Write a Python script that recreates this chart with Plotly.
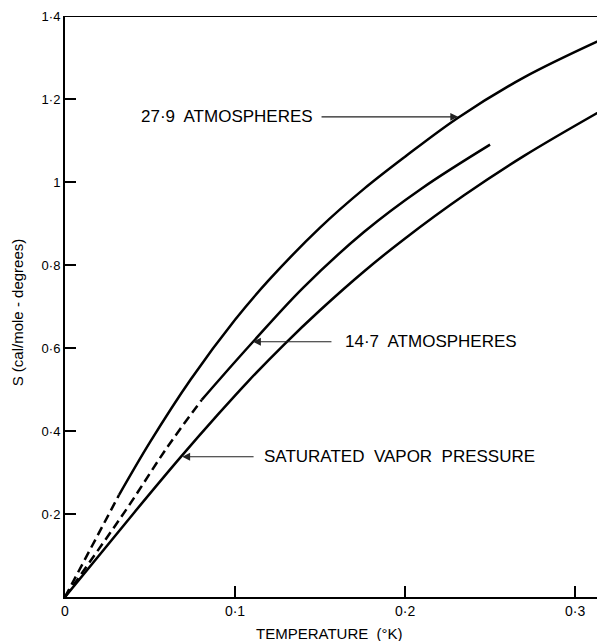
import plotly.graph_objects as go

# Curve data (temperature in K, entropy in cal/mole-deg)
x_279 = [0, 0.0318, 0.05, 0.0739, 0.1, 0.12, 0.15, 0.176, 0.2, 0.2312, 0.27, 0.3176]
y_279 = [0, 0.246, 0.373, 0.524, 0.668, 0.764, 0.89, 0.984, 1.061, 1.155, 1.252, 1.347]
dash_end_279 = 0.0318

x_147 = [0, 0.0359, 0.06, 0.0804, 0.0906, 0.1106, 0.14, 0.176, 0.21, 0.25]
y_147 = [0, 0.21, 0.36, 0.475, 0.523, 0.615, 0.745, 0.88, 0.985, 1.09]
dash_end_147 = 0.0804

x_svp = [0, 0.041, 0.068, 0.09, 0.108, 0.129, 0.15, 0.176, 0.2, 0.2347, 0.27, 0.3176]
y_svp = [0, 0.205, 0.337, 0.44, 0.521, 0.609, 0.691, 0.785, 0.864, 0.968, 1.063, 1.177]

x_tickvals = [0, 0.1, 0.2, 0.3]
x_ticktext = ["0", "0·1", "0·2", "0·3"]
y_tickvals = [0.2, 0.4, 0.6, 0.8, 1.0, 1.2, 1.4]
y_ticktext = ["0·2", "0·4", "0·6", "0·8", "1", "1·2", "1·4"]

label_texts = ["27·9  ATMOSPHERES", "14·7  ATMOSPHERES", "SATURATED  VAPOR  PRESSURE"]
label_x = [0.147, 0.1635, 0.1157]
label_anchor = ["right", "left", "left"]
arrow_tail_x = [0.150, 0.1576, 0.1118]
arrow_tip_x = [0.2312, 0.1106, 0.069]
arrow_tip_y = [1.157, 0.615, 0.338]

FONT = "Liberation Sans"
LW = 2.5
OFF = 8  # page body margin of the html page


def split(xs, ys, xcut):
    dx, dy, sx, sy = [], [], [], []
    for x, y in zip(xs, ys):
        if x <= xcut:
            dx.append(x); dy.append(y)
        if x >= xcut:
            sx.append(x); sy.append(y)
    return dx, dy, sx, sy


fig = go.Figure()
for xs, ys, cut in [(x_279, y_279, dash_end_279), (x_147, y_147, dash_end_147)]:
    dx, dy, sx, sy = split(xs, ys, cut)
    fig.add_trace(go.Scatter(x=dx, y=dy, mode="lines", line=dict(color="black", width=LW, dash="9px,5px", shape="spline"), showlegend=False, hoverinfo="skip"))
    fig.add_trace(go.Scatter(x=sx, y=sy, mode="lines", line=dict(color="black", width=LW, shape="spline"), showlegend=False, hoverinfo="skip"))
fig.add_trace(go.Scatter(x=x_svp, y=y_svp, mode="lines", line=dict(color="black", width=LW, shape="spline"), showlegend=False, hoverinfo="skip"))

annotations = []
for t, lx, anc, tx, hx, hy in zip(label_texts, label_x, label_anchor, arrow_tail_x, arrow_tip_x, arrow_tip_y):
    annotations.append(dict(x=lx, y=hy, xref="x", yref="y", text=t, showarrow=False, xanchor=anc, yanchor="middle",
                            font=dict(family=FONT, size=17, color="black")))
    annotations.append(dict(x=hx, y=hy, xref="x", yref="y", ax=tx, ay=hy, axref="x", ayref="y", text="",
                            showarrow=True, arrowhead=2, arrowsize=1.3, arrowwidth=1.2, arrowcolor="#222"))

annotations.append(dict(x=0.49, y=0, xref="paper", yref="paper", yshift=-36, text="TEMPERATURE  (°K)", showarrow=False,
                        xanchor="center", yanchor="middle", font=dict(family=FONT, size=15, color="black")))
annotations.append(dict(x=0, y=0.49, xref="paper", yref="paper", xshift=-48, text="S (cal/mole - degrees)", showarrow=False,
                        textangle=-90, xanchor="center", yanchor="middle", font=dict(family=FONT, size=15, color="black")))

fig.update_layout(
    width=605 - OFF, height=641 - OFF,
    margin=dict(l=65 - OFF, r=0, t=16 - OFF, b=44),
    paper_bgcolor="white", plot_bgcolor="white",
    annotations=annotations,
    font=dict(family=FONT, color="black"),
    shapes=[dict(type="line", xref="paper", yref="y", x0=0, x1=1, y0=1.4, y1=1.4, line=dict(color="black", width=2))],
)
fig.update_xaxes(range=[0, 0.3176], showgrid=False, zeroline=False, showline=True, linecolor="black", linewidth=2,
                 ticks="inside", ticklen=11, tickwidth=1.5, tickcolor="black",
                 tickvals=x_tickvals, ticktext=x_ticktext, tickfont=dict(family=FONT, size=14, color="black"))
fig.update_yaxes(range=[0, 1.4], showgrid=False, zeroline=False, showline=True, linecolor="black", linewidth=2,
                 ticks="inside", ticklen=11, tickwidth=1.5, tickcolor="black",
                 tickvals=y_tickvals, ticktext=y_ticktext, tickfont=dict(family=FONT, size=13, color="black"))

fig.write_html("out.html")
